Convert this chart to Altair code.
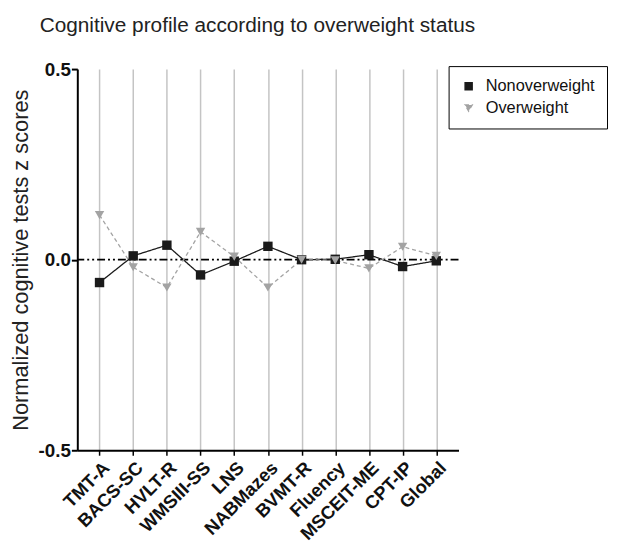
import altair as alt
import pandas as pd

tests = ["TMT-A", "BACS-SC", "HVLT-R", "WMSIII-SS", "LNS", "NABMazes",
         "BVMT-R", "Fluency", "MSCEIT-ME", "CPT-IP", "Global"]
nonoverweight = [-0.060, 0.010, 0.038, -0.040, -0.004, 0.035, 0.000, 0.001, 0.013, -0.018, -0.003]
overweight = [0.117, -0.020, -0.073, 0.073, 0.008, -0.073, 0.000, -0.002, -0.023, 0.034, 0.010]
groups = ["Nonoverweight", "Overweight"]

rows = []
for t, a, b in zip(tests, nonoverweight, overweight):
    rows.append({"test": t, "group": groups[0], "z": a})
    rows.append({"test": t, "group": groups[1], "z": b})
df = pd.DataFrame(rows)
zero = pd.DataFrame({"z": [0.0]})

x_enc = alt.X("test:N", sort=tests, title=None,
              scale=alt.Scale(type="point", padding=0.66),
              axis=alt.Axis(labelAngle=-45, labelAlign="right", labelBaseline="top",
                            labelFontWeight="bold", labelFontSize=18.5, labelColor="#111111",
                            labelFont="Liberation Sans", labelPadding=3,
                            grid=True, gridColor="#c4c4c4", gridWidth=1.5,
                            domainColor="black", domainWidth=2,
                            tickColor="black", tickWidth=1.5, tickSize=5))
y_enc = alt.Y("z:Q", title="Normalized cognitive tests z scores",
              scale=alt.Scale(domain=[-0.5, 0.5], nice=False),
              axis=alt.Axis(values=[-0.5, 0.0, 0.5], grid=False,
                            labelExpr="datum.value < 0 ? '-' + format(-datum.value, '.1f') : format(datum.value, '.1f')",
                            labelFontWeight="bold", labelFontSize=19, labelColor="#111111",
                            labelFont="Liberation Sans", labelPadding=1,
                            titleFont="Liberation Sans", titleFontSize=22,
                            titleFontWeight="normal", titleColor="#222222", titlePadding=6,
                            domainColor="black", domainWidth=2,
                            tickColor="black", tickWidth=2, tickSize=6))

color = alt.Color("group:N", scale=alt.Scale(domain=groups, range=["#1a1a1a", "#a3a3a3"]),
                  legend=alt.Legend(title=None, orient="none", legendX=375, legendY=-3,
                                    strokeColor="black", fillColor="white", padding=12,
                                    labelFontSize=16.5, labelFont="Liberation Sans",
                                    labelColor="#111111", symbolSize=50, rowPadding=5,
                                    labelOffset=9))
shape = alt.Shape("group:N", scale=alt.Scale(domain=groups, range=["square", "triangle-down"]),
                  legend=None)
dash = alt.StrokeDash("group:N", scale=alt.Scale(domain=groups, range=[[1, 0], [4, 3]]),
                      legend=None)

lines = alt.Chart(df).mark_line(strokeWidth=1.3).encode(
    x=x_enc, y=y_enc, color=color, strokeDash=dash, detail="group:N")
points = alt.Chart(df).mark_point(filled=True, size=90, opacity=1).encode(
    x=alt.X("test:N", sort=tests), y="z:Q", color=alt.Color("group:N"),
    shape=shape)
rule = alt.Chart(zero).mark_rule(color="black", strokeWidth=1.8,
                                 strokeDash=[8, 3, 2, 3, 2, 3]).encode(y="z:Q")

chart = alt.layer(rule, lines, points).properties(
    width=385, height=385,
    autosize=alt.AutoSizeParams(type="none"),
    padding={"left": 70, "top": 59, "right": 152, "bottom": 94},
    title=alt.Title("Cognitive profile according to overweight status", anchor="start",
                    frame="group", dx=-38, offset=24,
                    fontSize=21, fontWeight="normal",
                    font="Liberation Sans", color="#222222"),
).configure_view(stroke=None)

chart.save("out.html", embed_options={"renderer": "svg", "actions": False})
